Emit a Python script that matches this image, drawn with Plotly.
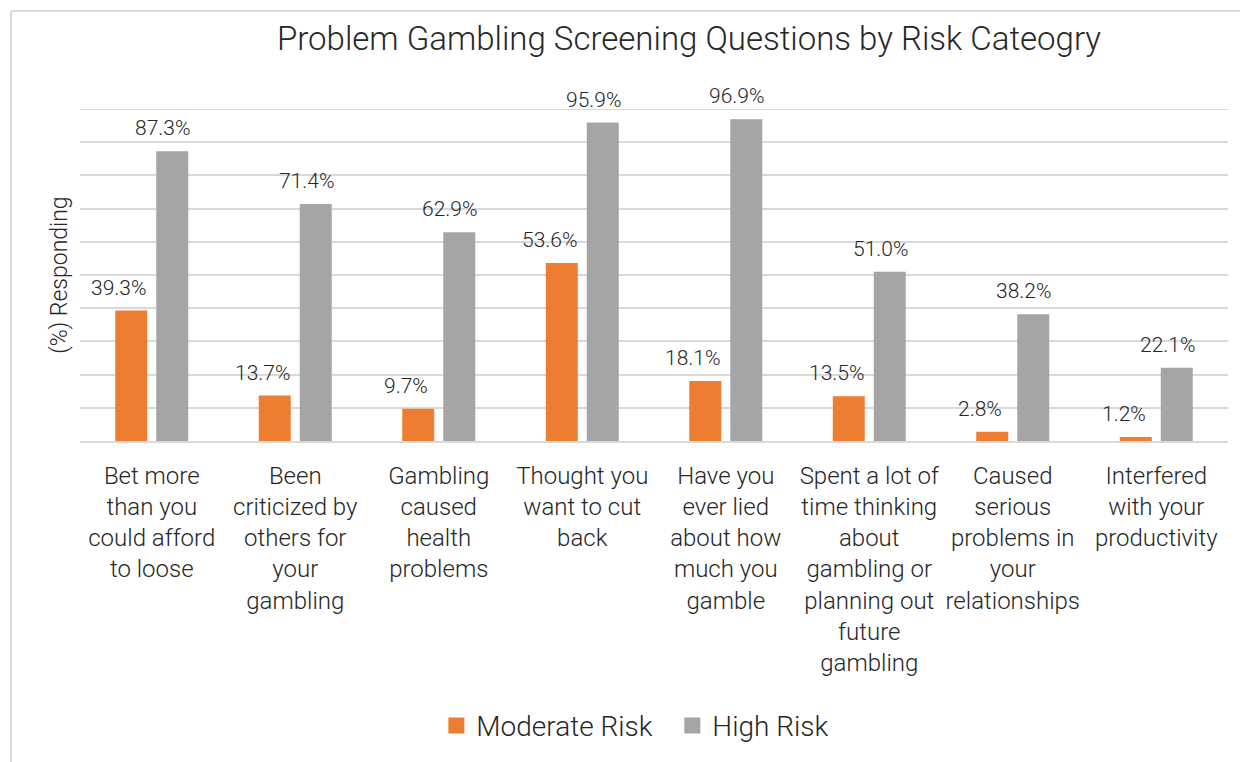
import plotly.graph_objects as go

categories = [
    "Bet more<br>than you<br>could afford<br>to loose",
    "Been<br>criticized by<br>others for<br>your<br>gambling",
    "Gambling<br>caused<br>health<br>problems",
    "Thought you<br>want to cut<br>back",
    "Have you<br>ever lied<br>about how<br>much you<br>gamble",
    "Spent a lot of<br>time thinking<br>about<br>gambling or<br>planning out<br>future<br>gambling",
    "Caused<br>serious<br>problems in<br>your<br>relationships",
    "Interfered<br>with your<br>productivity",
]
moderate_risk = [39.3, 13.7, 9.7, 53.6, 18.1, 13.5, 2.8, 1.2]
high_risk = [87.3, 71.4, 62.9, 95.9, 96.9, 51.0, 38.2, 22.1]
series_names = ["Moderate Risk", "High Risk"]

FONT = "Roboto"
TXT = "#262626"
ORANGE = "#ED7D31"
GRAY = "#A5A5A5"
GRID = "#D9D9D9"

fig = go.Figure()
for name, vals, col in zip(series_names, (moderate_risk, high_risk), (ORANGE, GRAY)):
    fig.add_trace(go.Bar(name=name, x=categories, y=vals, showlegend=False,
                         marker=dict(color=col, line=dict(width=0))))
# legend entries with larger square swatches
for name, col in zip(series_names, (ORANGE, GRAY)):
    fig.add_trace(go.Scatter(name=name, x=[None], y=[None], mode="markers",
                             marker=dict(symbol="square", size=17, color=col),
                             showlegend=True, hoverinfo="skip"))

annotations = []
for vals, xs in ((moderate_risk, -20.5 - 12), (high_risk, 20.5 - 9)):
    for c, v in zip(categories, vals):
        annotations.append(dict(
            x=c, y=v, xref="x", yref="y", text=f"{v:.1f}%", showarrow=False,
            xanchor="center", yanchor="bottom", xshift=xs, yshift=9,
            font=dict(family=FONT, size=21, color=TXT, weight=300)))

# page body has an 8px margin, so figure coords = screen coords - 8
fig.update_layout(
    width=1248, height=762,
    margin=dict(l=72, r=28, t=101, b=329),
    paper_bgcolor="white", plot_bgcolor="white",
    barmode="group", bargap=0.4286, bargroupgap=0.22,
    font=dict(family=FONT, color=TXT, weight=300),
    title=dict(text="Problem Gambling Screening Questions by Risk Cateogry",
               x=(689 - 80) / 1148, xanchor="center", xref="paper",
               y=1 - 30 / 762, yanchor="middle",
               font=dict(family=FONT, size=33, color=TXT, weight=300)),
    xaxis=dict(showgrid=False, showline=True, linecolor=GRID, linewidth=2,
               ticks="", ticklabelstandoff=12,
               tickfont=dict(family=FONT, size=24, color=TXT, weight=300),
               tickangle=0, fixedrange=True),
    yaxis=dict(range=[0, 100], tickvals=list(range(0, 101, 10)), showgrid=True,
               gridcolor=GRID, gridwidth=2,
               showticklabels=False, zeroline=False, ticks="",
               title=dict(text="(%) Responding", standoff=4,
                          font=dict(family=FONT, size=23, color=TXT, weight=300))),
    legend=dict(orientation="h", x=0.516, xanchor="center", y=-0.858, yanchor="middle",
                font=dict(family=FONT, size=28, color=TXT, weight=300),
                itemwidth=30, traceorder="normal",
                entrywidth=191, entrywidthmode="pixels"),
    annotations=annotations,
    shapes=[
        dict(type="line", xref="paper", yref="y", x0=0, x1=1, y0=100, y1=100,
             line=dict(color=GRID, width=2), layer="below"),
        dict(type="line", xref="paper", yref="paper",
             x0=(11 - 80) / 1148, x1=(1260 - 80) / 1148,
             y0=(441 - 11) / 332, y1=(441 - 11) / 332,
             line=dict(color=GRID, width=2)),
        dict(type="line", xref="paper", yref="paper",
             x0=(11 - 80) / 1148, x1=(11 - 80) / 1148,
             y0=(441 - 11) / 332, y1=(441 - 780) / 332,
             line=dict(color=GRID, width=2)),
    ],
)

fig.write_html("out.html")
